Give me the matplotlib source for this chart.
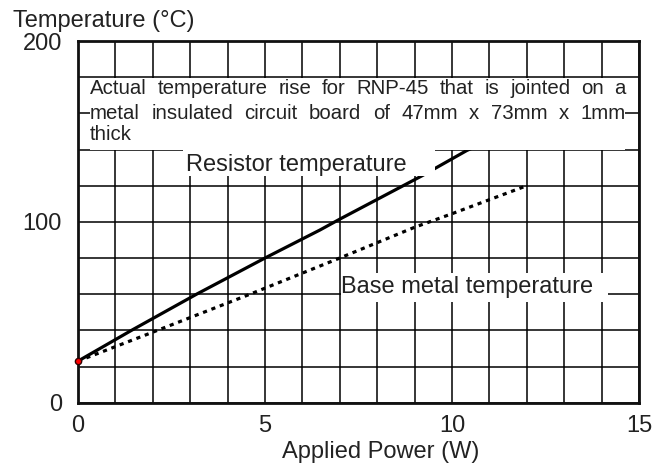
import numpy as np
import matplotlib
matplotlib.use("Agg")
import matplotlib.pyplot as plt
from matplotlib.patches import Rectangle

plt.rcParams['font.family'] = ['Liberation Sans', 'DejaVu Sans']

# data
power_resistor = [0, 1.43, 3.17, 5, 6.47, 7, 9.2, 10.4, 11]
temp_resistor = [23, 40, 60, 80, 95.5, 101.5, 125.5, 139.5, 145]
power_base = [0, 2, 4.6, 7, 9, 10, 12]
temp_base = [23, 39, 60, 80, 97, 104.5, 120]

x_ticks = [0, 5, 10, 15]
y_ticks = [0, 100, 200]

note_lines = [
    "Actual temperature rise for RNP-45 that is jointed on a",
    "metal insulated circuit board of 47mm x 73mm x 1mm",
    "thick",
]
label_resistor = "Resistor temperature"
label_base = "Base metal temperature"

txt_color = '#222222'

fig = plt.figure(figsize=(6.52, 4.65), dpi=100)
ax = fig.add_axes([78 / 652, 1 - 402.7 / 465, 561 / 652, 361.7 / 465])
ax.set_xlim(0, 15)
ax.set_ylim(0, 200)

# grid every 1 W and every 20 degC
ax.set_xticks(x_ticks)
ax.set_yticks(y_ticks)
ax.set_xticks(np.arange(0, 16, 1), minor=True)
ax.set_yticks(np.arange(0, 201, 20), minor=True)
ax.grid(which='both', color='black', linewidth=1.1)
ax.set_axisbelow(True)
ax.tick_params(which='both', length=0)
ax.tick_params(axis='x', pad=9, labelsize=17, labelcolor=txt_color)
ax.tick_params(axis='y', pad=11.5, labelsize=17, labelcolor=txt_color)
for sp in ax.spines.values():
    sp.set_linewidth(2)
    sp.set_color('#111111')

# curves
ax.plot(power_resistor, temp_resistor, color='black', linewidth=2.3, zorder=1.5,
        solid_capstyle='butt')
ax.plot(power_base, temp_base, color='black', linewidth=2.3, zorder=1.5,
        linestyle=(0, (1.3, 1.5)), dash_capstyle='butt')
ax.plot([power_resistor[0]], [temp_resistor[0]], 'o', color='red',
        markeredgecolor='#330000', markersize=4.5, zorder=4, clip_on=False)

# white boxes hiding the grid behind the texts
ax.add_patch(Rectangle((0.32, 139.8), 14.62 - 0.32, 179.4 - 139.8,
                       facecolor='white', edgecolor='none', zorder=2))
ax.add_patch(Rectangle((2.8, 125.2), 9.55 - 2.8, 139.8 - 125.2,
                       facecolor='white', edgecolor='none', zorder=2))
ax.add_patch(Rectangle((7.04, 55.7), 14.17 - 7.04, 71.7 - 55.7,
                       facecolor='white', edgecolor='none', zorder=2))

renderer = fig.canvas.get_renderer()
px_per_w = ax.get_window_extent(renderer).width / 15.0


def justify(words, x0, x1, y, **kw):
    texts = [ax.text(0, y, w, **kw) for w in words]
    widths = [t.get_window_extent(renderer).width / px_per_w for t in texts]
    if len(words) > 1:
        gap = (x1 - x0 - sum(widths)) / (len(words) - 1)
    else:
        gap = 0
    x = x0
    for t, w in zip(texts, widths):
        t.set_x(x)
        x += w + gap


note_kw = dict(fontsize=14.7, color=txt_color, va='baseline', ha='left', zorder=3)
baselines = [170.6, 157.0, 145.4]
for i, line in enumerate(note_lines):
    if i < len(note_lines) - 1:
        justify(line.split(), 0.32, 14.65, baselines[i], **note_kw)
    else:
        ax.text(0.32, baselines[i], line, **note_kw)

ax.text(2.9, 128.3, label_resistor, fontsize=17, color=txt_color,
        va='baseline', ha='left', zorder=3)
ax.text(7.02, 60.5, label_base, fontsize=17, color=txt_color,
        va='baseline', ha='left', zorder=3)

ax.set_xlabel("Applied Power (W)", fontsize=17, color=txt_color)
ax.xaxis.set_label_coords(0.54, -0.105)
fig.text(13 / 652, 1 - 27 / 465, "Temperature (°C)", fontsize=17,
         color=txt_color, va='baseline', ha='left')

fig.savefig("out.png", dpi=100)
